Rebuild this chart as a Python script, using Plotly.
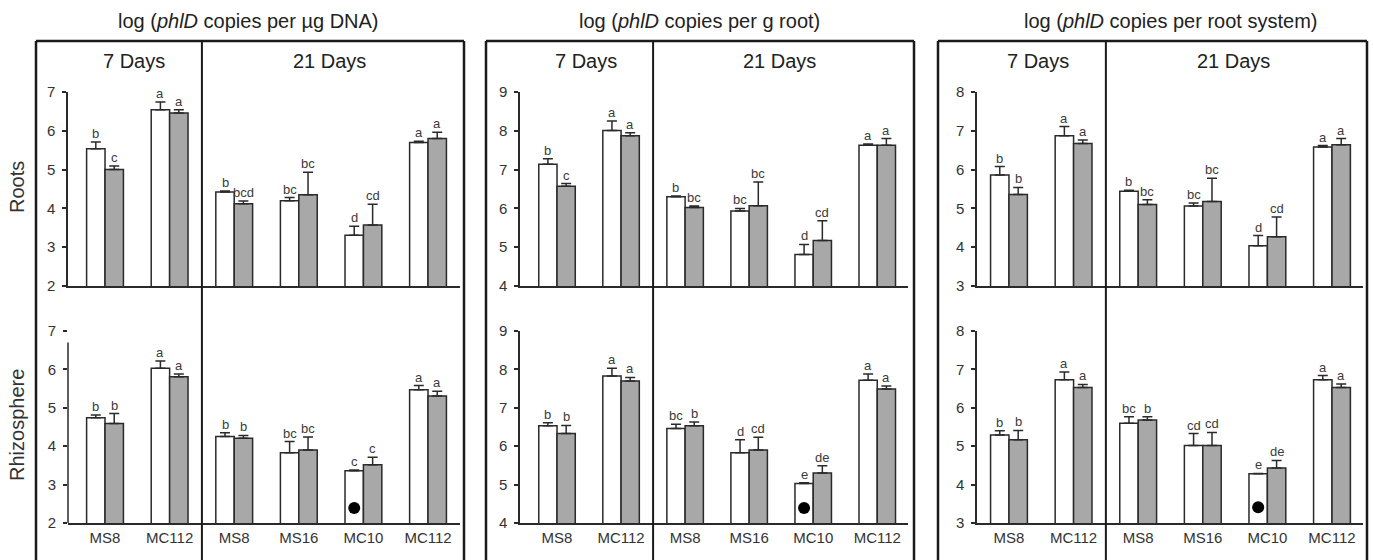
import plotly.graph_objects as go

W, H = 1373, 560

categories = ["MS8", "MC112", "MS8", "MS16", "MC10", "MC112"]
positions = [0, 1, 2, 3, 4, 5]
period_labels = ["7 Days", "21 Days"]
row_labels = ["Roots", "Rhizosphere"]
panel_titles = [
    "log (<i>phlD</i> copies per µg DNA)",
    "log (<i>phlD</i> copies per g root)",
    "log (<i>phlD</i> copies per root system)",
]
y_ranges = [[2, 7], [4, 9], [3, 8]]

# ---- panel 1: per µg DNA ----
dna_roots_white = [5.54, 6.54, 4.42, 4.20, 3.31, 5.70]
dna_roots_white_err = [0.17, 0.20, 0.03, 0.08, 0.23, 0.03]
dna_roots_gray = [5.00, 6.46, 4.12, 4.35, 3.57, 5.80]
dna_roots_gray_err = [0.09, 0.08, 0.07, 0.58, 0.54, 0.16]
dna_roots_white_sig = ["b", "a", "b", "bc", "d", "a"]
dna_roots_gray_sig = ["c", "a", "bcd", "bc", "cd", "a"]

dna_rhizo_white = [4.74, 6.03, 4.25, 3.83, 3.36, 5.47]
dna_rhizo_white_err = [0.07, 0.19, 0.10, 0.29, 0.02, 0.11]
dna_rhizo_gray = [4.59, 5.81, 4.21, 3.90, 3.52, 5.31]
dna_rhizo_gray_err = [0.26, 0.07, 0.07, 0.34, 0.19, 0.12]
dna_rhizo_white_sig = ["b", "a", "b", "bc", "c", "a"]
dna_rhizo_gray_sig = ["b", "a", "b", "bc", "c", "a"]

# ---- panel 2: per g root ----
groot_roots_white = [7.14, 8.01, 6.30, 5.93, 4.81, 7.63]
groot_roots_white_err = [0.14, 0.24, 0.02, 0.07, 0.26, 0.03]
groot_roots_gray = [6.57, 7.87, 6.02, 6.07, 5.17, 7.63]
groot_roots_gray_err = [0.07, 0.08, 0.04, 0.61, 0.51, 0.17]
groot_roots_white_sig = ["b", "a", "b", "bc", "d", "a"]
groot_roots_gray_sig = ["c", "a", "bc", "bc", "cd", "a"]

groot_rhizo_white = [6.53, 7.83, 6.46, 5.83, 5.03, 7.72]
groot_rhizo_white_err = [0.08, 0.20, 0.11, 0.34, 0.02, 0.16]
groot_rhizo_gray = [6.33, 7.70, 6.53, 5.90, 5.30, 7.49]
groot_rhizo_gray_err = [0.21, 0.09, 0.10, 0.33, 0.19, 0.08]
groot_rhizo_white_sig = ["b", "a", "bc", "d", "e", "a"]
groot_rhizo_gray_sig = ["b", "a", "b", "cd", "de", "a"]

# ---- panel 3: per root system ----
rsys_roots_white = [5.86, 6.87, 5.44, 5.06, 4.04, 6.58]
rsys_roots_white_err = [0.22, 0.24, 0.03, 0.08, 0.26, 0.04]
rsys_roots_gray = [5.36, 6.67, 5.10, 5.18, 4.27, 6.64]
rsys_roots_gray_err = [0.18, 0.09, 0.12, 0.60, 0.51, 0.16]
rsys_roots_white_sig = ["b", "a", "b", "bc", "d", "a"]
rsys_roots_gray_sig = ["b", "a", "bc", "bc", "cd", "a"]

rsys_rhizo_white = [5.29, 6.73, 5.60, 5.02, 4.28, 6.73]
rsys_rhizo_white_err = [0.11, 0.20, 0.17, 0.31, 0.01, 0.11]
rsys_rhizo_gray = [5.17, 6.53, 5.68, 5.02, 4.43, 6.53]
rsys_rhizo_gray_err = [0.24, 0.08, 0.09, 0.34, 0.20, 0.09]
rsys_rhizo_white_sig = ["b", "a", "bc", "cd", "e", "a"]
rsys_rhizo_gray_sig = ["b", "a", "b", "cd", "de", "a"]

# black dot marker (MC10, 21 days, rhizosphere, white bar) per panel
dot_category = 4
dot_y = [2.39, 4.39, 3.41]

panels = [
    [
        (dna_roots_white, dna_roots_white_err, dna_roots_gray, dna_roots_gray_err, dna_roots_white_sig, dna_roots_gray_sig),
        (dna_rhizo_white, dna_rhizo_white_err, dna_rhizo_gray, dna_rhizo_gray_err, dna_rhizo_white_sig, dna_rhizo_gray_sig),
    ],
    [
        (groot_roots_white, groot_roots_white_err, groot_roots_gray, groot_roots_gray_err, groot_roots_white_sig, groot_roots_gray_sig),
        (groot_rhizo_white, groot_rhizo_white_err, groot_rhizo_gray, groot_rhizo_gray_err, groot_rhizo_white_sig, groot_rhizo_gray_sig),
    ],
    [
        (rsys_roots_white, rsys_roots_white_err, rsys_roots_gray, rsys_roots_gray_err, rsys_roots_white_sig, rsys_roots_gray_sig),
        (rsys_rhizo_white, rsys_rhizo_white_err, rsys_rhizo_gray, rsys_rhizo_gray_err, rsys_rhizo_white_sig, rsys_rhizo_gray_sig),
    ],
]

# ---------------- layout geometry (pixels) ----------------
FONT = "Liberation Sans, Arial, sans-serif"
EDGE = "#2a2a2a"
GRAY = "#a8a8a8"
BW = 0.285

x_px = [(68, 460), (520, 908), (977, 1363)]
x_rng = [(-0.573, 5.495), (-0.578, 5.48), (-0.495, 5.48)]
row_px = [(92, 286), (331, 523)]          # (top, base)
box_px = [(36, 464), (486, 914), (938, 1367)]
title_cx = [248, 699, 1170]
box_top = 41


def px_x(p):
    return p / W


def px_y(p):
    return 1 - p / H


fig = go.Figure()
layout = dict(
    width=W, height=H, margin=dict(l=0, r=0, t=0, b=0, autoexpand=False),
    paper_bgcolor="white", plot_bgcolor="rgba(0,0,0,0)",
    showlegend=False, barmode="overlay",
    font=dict(family=FONT, color="#333"),
)
annotations = []
shapes = []

for p in range(3):
    for r in range(2):
        n = p * 2 + r + 1
        xa = "x" if n == 1 else f"x{n}"
        ya = "y" if n == 1 else f"y{n}"
        white, werr, gray, gerr, wsig, gsig = panels[p][r]

        fig.add_trace(go.Bar(
            x=positions, y=white, xaxis=xa, yaxis=ya, width=BW, offset=-BW,
            marker=dict(color="white", line=dict(color=EDGE, width=1.5)),
            error_y=dict(type="data", symmetric=False, array=werr,
                         arrayminus=[0] * len(werr), color=EDGE, thickness=1.5, width=5),
        ))
        fig.add_trace(go.Bar(
            x=positions, y=gray, xaxis=xa, yaxis=ya, width=BW, offset=0,
            marker=dict(color=GRAY, line=dict(color=EDGE, width=1.5)),
            error_y=dict(type="data", symmetric=False, array=gerr,
                         arrayminus=[0] * len(gerr), color=EDGE, thickness=1.5, width=5),
        ))
        # significance letters
        for i in range(len(positions)):
            for val, err, sig, dx in ((white[i], werr[i], wsig[i], -BW / 2),
                                      (gray[i], gerr[i], gsig[i], BW / 2)):
                annotations.append(dict(
                    x=positions[i] + dx, y=val + err, xref=xa, yref=ya,
                    text=sig, showarrow=False, yanchor="bottom", yshift=-1,
                    font=dict(size=13, color="#3a3a3a", family=FONT),
                ))
        if r == 1:
            fig.add_trace(go.Scatter(
                x=[positions[dot_category] - BW / 2], y=[dot_y[p]], xaxis=xa, yaxis=ya,
                mode="markers", marker=dict(color="black", size=12),
            ))

        xkey = "xaxis" if n == 1 else f"xaxis{n}"
        ykey = "yaxis" if n == 1 else f"yaxis{n}"
        top, base = row_px[r]
        layout[xkey] = dict(
            domain=[px_x(x_px[p][0]), px_x(x_px[p][1])], range=list(x_rng[p]),
            anchor=ya, showgrid=False, zeroline=False,
            showline=True, linecolor=EDGE, linewidth=1.5,
            tickmode="array", tickvals=positions, ticktext=categories,
            ticks="", showticklabels=(r == 1), automargin=False,
            tickfont=dict(size=15, color="#333", family=FONT),
        )
        quirk = (p == 0 and r == 1)
        layout[ykey] = dict(
            domain=[px_y(base), px_y(top)], range=y_ranges[p], anchor=xa,
            showgrid=False, zeroline=False, automargin=False,
            showline=not quirk, linecolor=EDGE, linewidth=1.5,
            ticks="outside", ticklen=4, tickwidth=1.5, tickcolor=EDGE,
            dtick=1, tick0=0, ticklabelstandoff=4,
            tickfont=dict(size=15, color="#333", family=FONT),
        )
        if quirk:
            shapes.append(dict(
                type="line", xref=f"{xa} domain", yref=ya, x0=0, x1=0,
                y0=y_ranges[p][0], y1=y_ranges[p][1] - 0.3,
                line=dict(color=EDGE, width=1.5),
            ))

    # panel frame (left, top, right) and divider between 7 and 21 days
    L, R = box_px[p]
    for (x0, y0, x1, y1) in ((L, box_top, L, H + 5), (L, box_top, R, box_top), (R, box_top, R, H + 5)):
        shapes.append(dict(type="line", xref="paper", yref="paper",
                           x0=px_x(x0), x1=px_x(x1), y0=px_y(y0), y1=px_y(y1),
                           line=dict(color="#1a1a1a", width=2.5)))
    xa_top = "x" if p == 0 else f"x{p * 2 + 1}"
    shapes.append(dict(type="line", xref=xa_top, yref="paper", x0=1.5, x1=1.5,
                       y0=px_y(box_top), y1=px_y(H + 5),
                       line=dict(color="#1a1a1a", width=2)))
    # panel title
    annotations.append(dict(
        x=px_x(title_cx[p]), y=px_y(21), xref="paper", yref="paper",
        text=panel_titles[p], showarrow=False, xanchor="center", yanchor="middle",
        font=dict(size=20, color="#222", family=FONT),
    ))
    # period labels
    for lbl, xc in zip(period_labels, (0.45, 3.48)):
        annotations.append(dict(
            x=xc, y=px_y(61), xref=xa_top, yref="paper", text=lbl, showarrow=False,
            xanchor="center", yanchor="middle",
            font=dict(size=20, color="#222", family=FONT),
        ))

# row labels
for r, lbl in enumerate(row_labels):
    top, base = row_px[r]
    annotations.append(dict(
        x=px_x(17), y=px_y((top + base) / 2 - 2), xref="paper", yref="paper",
        text=lbl, textangle=-90, showarrow=False, xanchor="center", yanchor="middle",
        font=dict(size=20, color="#333", family=FONT),
    ))

layout["annotations"] = annotations
layout["shapes"] = shapes
fig.update_layout(**layout)
fig.write_html(
    "out.html",
    config={"displayModeBar": False},
    post_script="document.body.style.margin='0';document.body.style.overflow='hidden';",
)
